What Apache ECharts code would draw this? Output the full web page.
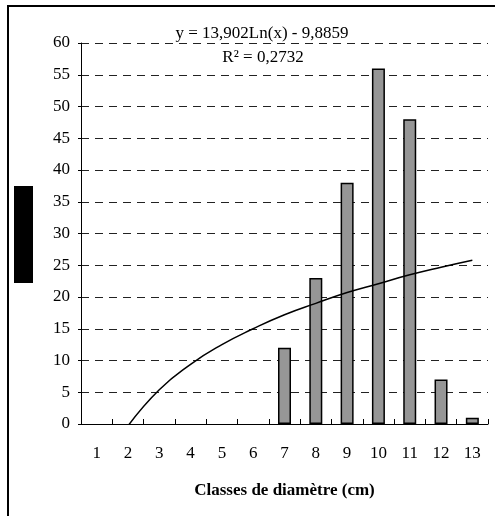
<!DOCTYPE html>
<html>
<head>
<meta charset="utf-8">
<script src="https://cdn.jsdelivr.net/npm/echarts@6/dist/echarts.min.js"></script>
<style>html,body{margin:0;padding:0;background:#fff;}#c{width:495px;height:516px;}</style>
</head>
<body>
<div id="c"></div>
<script>
const categories = ['1','2','3','4','5','6','7','8','9','10','11','12','13'];
const counts = [0, 0, 0, 0, 0, 0, 12, 23, 38, 56, 48, 7, 1];
const trend = [null, -0.3, 5.4, 9.4, 12.5, 15.0, 17.2, 19.0, 20.7, 22.1, 23.5, 24.7, 25.8];
const yTicks = { min: 0, max: 60, interval: 5 };
const equation = 'y = 13,902Ln(x) - 9,8859';
const r2 = 'R² = 0,2732';
const xName = 'Classes de diamètre (cm)';

const font = '"Liberation Serif", "DejaVu Serif", serif';
const chart = echarts.init(document.getElementById('c'), null, { renderer: 'canvas' });
chart.setOption({
  animation: false,
  backgroundColor: '#fff',
  grid: { left: 81, right: 7, top: 43, bottom: 92 },
  xAxis: {
    type: 'category',
    data: categories,
    boundaryGap: true,
    axisLine: { lineStyle: { color: '#000', width: 1 } },
    axisTick: { show: true, inside: true, length: 5, alignWithLabel: false, lineStyle: { color: '#000' } },
    axisLabel: { color: '#000', fontFamily: font, fontSize: 17, margin: 21 },
    name: xName,
    nameLocation: 'middle',
    nameGap: 58,
    nameTextStyle: { color: '#000', fontFamily: font, fontSize: 17, fontWeight: 'bold' }
  },
  yAxis: {
    type: 'value',
    min: yTicks.min, max: yTicks.max, interval: yTicks.interval,
    axisLine: { show: true, lineStyle: { color: '#000', width: 1 } },
    axisTick: { show: true, length: 3, lineStyle: { color: '#000' } },
    axisLabel: { color: '#000', fontFamily: font, fontSize: 17, margin: 11 },
    splitLine: { show: true, lineStyle: { color: '#222', type: [8, 6], width: 1 } }
  },
  series: [
    {
      type: 'bar',
      data: counts.map(v => (v === 0 ? null : v)),
      barWidth: 13,
      itemStyle: { color: '#969696', borderColor: '#000', borderWidth: 1.5 },
      z: 2
    },
    {
      type: 'line',
      data: trend,
      smooth: true,
      symbol: 'none',
      clip: true,
      lineStyle: { color: '#000', width: 1.5 },
      z: 3
    }
  ],
  graphic: [
    { type: 'rect', shape: { x: 8, y: 6, width: 495, height: 520 }, style: { fill: 'none', stroke: '#000', lineWidth: 2 }, silent: true },
    { type: 'rect', shape: { x: 14, y: 186, width: 19, height: 97 }, style: { fill: '#000' }, silent: true },
    { type: 'text', x: 262, y: 34, style: { text: equation, fill: '#000', font: '17px ' + font, align: 'center', verticalAlign: 'middle' } },
    { type: 'text', x: 263, y: 58, style: { text: r2, fill: '#000', font: '17px ' + font, align: 'center', verticalAlign: 'middle' } }
  ]
});
</script>
</body>
</html>
